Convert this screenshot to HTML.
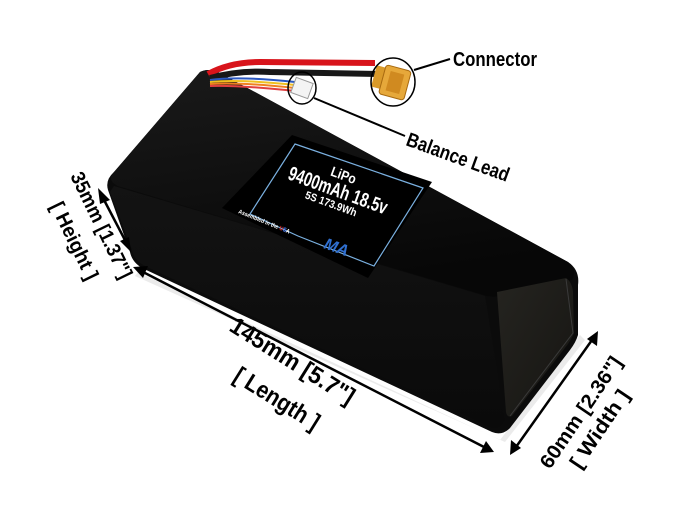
<!DOCTYPE html>
<html><head><meta charset="utf-8"><style>
html,body{margin:0;padding:0;background:#fff;}
svg{display:block}
text{font-family:"Liberation Sans",sans-serif;font-weight:bold;}
</style></head><body>
<svg width="686" height="511" viewBox="0 0 686 511" xmlns="http://www.w3.org/2000/svg">
<defs>
<linearGradient id="top" x1="0" y1="0" x2="0.3" y2="1">
<stop offset="0" stop-color="#1a1a1a"/><stop offset="1" stop-color="#070707"/></linearGradient>
<linearGradient id="front" x1="0" y1="0" x2="0" y2="1">
<stop offset="0" stop-color="#131313"/><stop offset="1" stop-color="#0a0a0a"/></linearGradient>
<linearGradient id="end" x1="0" y1="0" x2="1" y2="1">
<stop offset="0" stop-color="#252420"/><stop offset="1" stop-color="#161512"/></linearGradient>
</defs>
<path d="M138,272 L500,440 L580,335 L585,340 L505,442 L135,276Z" fill="#ddd" opacity="0.6"/>
<path d="M200,72 Q208,68 218,72 L568,262 Q580,270 578,285 L578,335 Q576,342 570,350 L510,428 Q502,436 492,432 L142,268 Q132,262 130,252 L108,190 Q105,180 114,172 Z" fill="#0b0b0b"/>
<path d="M200,72 Q208,68 218,72 L568,262 Q578,270 572,280 L500,296 Q490,298 480,294 L118,186 Q106,180 114,172 Z" fill="url(#top)"/>
<path d="M114,186 L485,296 L505,420 Q500,430 492,428 L145,266 Q134,260 132,250 L110,192Z" fill="url(#front)"/>
<path d="M497,292 L566,278 Q572,282 573,292 L574,333 Q572,338 568,344 L512,416 Q507,418 506,412Z" fill="url(#end)"/>
<path d="M566,279 L573,333 L510,416" fill="none" stroke="#3a3a3a" stroke-width="1"/>
<path d="M208,74 Q230,62 260,62 L375,63" stroke="#d8141b" stroke-width="6" fill="none"/>
<path d="M210,78 Q240,70 270,72 L378,74" stroke="#181818" stroke-width="6" fill="none"/>
<path d="M210,80 Q240,76 295,82" stroke="#2a57c0" stroke-width="2" fill="none"/>
<path d="M210,82 Q240,79 295,85" stroke="#f0c020" stroke-width="2" fill="none"/>
<path d="M210,84 Q240,82 295,88" stroke="#f08020" stroke-width="2" fill="none"/>
<path d="M210,86 Q240,85 295,91" stroke="#e04040" stroke-width="2" fill="none"/>
<rect x="293" y="80" width="18" height="16" fill="#f4f4f4" stroke="#999" stroke-width="1" transform="rotate(20 302 88)"/>
<g transform="rotate(15 393 82)">
<rect x="373" y="70" width="12" height="22" fill="#d99a2a"/>
<rect x="382" y="67" width="26" height="30" rx="3" fill="#e6a83a" stroke="#a86a10" stroke-width="1"/>
<rect x="388" y="72" width="14" height="20" fill="#d08a20"/>
</g>
<ellipse cx="393" cy="82" rx="22" ry="24" fill="none" stroke="#000" stroke-width="1.5"/>
<ellipse cx="302" cy="88" rx="14" ry="16" fill="none" stroke="#000" stroke-width="1.5"/>
<line x1="414" y1="70" x2="450" y2="59" stroke="#000" stroke-width="2"/>
<line x1="314" y1="98" x2="405" y2="136" stroke="#000" stroke-width="2"/>
<text x="453" y="66" font-size="20" fill="#000" textLength="84" lengthAdjust="spacingAndGlyphs">Connector</text>
<text x="0" y="0" font-size="20" fill="#000" textLength="108" lengthAdjust="spacingAndGlyphs" transform="translate(405,145) rotate(20)">Balance Lead</text>
<path d="M292,135 L432,182 L368,278 L222,208Z" fill="#000"/>
<path d="M295,144 L423,188 L374,266 L298,236 L250,214 Z" fill="none" stroke="#7ab0e0" stroke-width="1.2"/>
<g fill="#fff" transform="rotate(20 335 190)">
<text x="338" y="178" font-size="14" text-anchor="middle" textLength="26" lengthAdjust="spacingAndGlyphs">LiPo</text>
<text x="338" y="196" font-size="20" text-anchor="middle" textLength="104" lengthAdjust="spacingAndGlyphs">9400mAh 18.5v</text>
<text x="336" y="208" font-size="11" text-anchor="middle" font-weight="normal" textLength="54" lengthAdjust="spacingAndGlyphs">5S 173.9Wh</text>
</g>
<text x="0" y="0" font-size="6" fill="#fff" textLength="55" lengthAdjust="spacingAndGlyphs" transform="translate(238,213) rotate(22)">Assembled in the <tspan fill="#e03030">U</tspan><tspan fill="#5080ff">S</tspan>A</text>
<text x="0" y="0" font-size="16" fill="#2f6fd0" font-style="italic" transform="translate(323,248) rotate(20)">MA</text>
<g stroke="#000" stroke-width="2.5">
<line x1="103" y1="198" x2="126" y2="242"/>
<line x1="143" y1="272" x2="484" y2="447"/>
<line x1="592" y1="340" x2="516" y2="447"/>
</g>
<g fill="#000">
<polygon points="98,188 110,200 100,204"/>
<polygon points="131,252 120,241 129,237"/>
<polygon points="133,267 148,266 143,278"/>
<polygon points="494,452 480,453 486,441"/>
<polygon points="598,331 597,346 587,339"/>
<polygon points="510,455 511,440 521,448"/>
</g>
<text x="0" y="0" font-size="20" fill="#000" textLength="116" lengthAdjust="spacingAndGlyphs" transform="translate(70,176) rotate(64)">35mm [1.37"]</text>
<text x="0" y="0" font-size="20" fill="#000" textLength="84" lengthAdjust="spacingAndGlyphs" transform="translate(50,206) rotate(64)">[ Height ]</text>
<text x="0" y="0" font-size="24" fill="#000" textLength="142" lengthAdjust="spacingAndGlyphs" transform="translate(228,330) rotate(32)">145mm [5.7"]</text>
<text x="0" y="0" font-size="24" fill="#000" textLength="96" lengthAdjust="spacingAndGlyphs" transform="translate(232,380) rotate(32)">[ Length ]</text>
<text x="0" y="0" font-size="20" fill="#000" textLength="130" lengthAdjust="spacingAndGlyphs" transform="translate(550,470) rotate(-56)">60mm [2.36"]</text>
<text x="0" y="0" font-size="20" fill="#000" textLength="90" lengthAdjust="spacingAndGlyphs" transform="translate(580,470) rotate(-56)">[ Width ]</text>
</svg>
</body></html>
